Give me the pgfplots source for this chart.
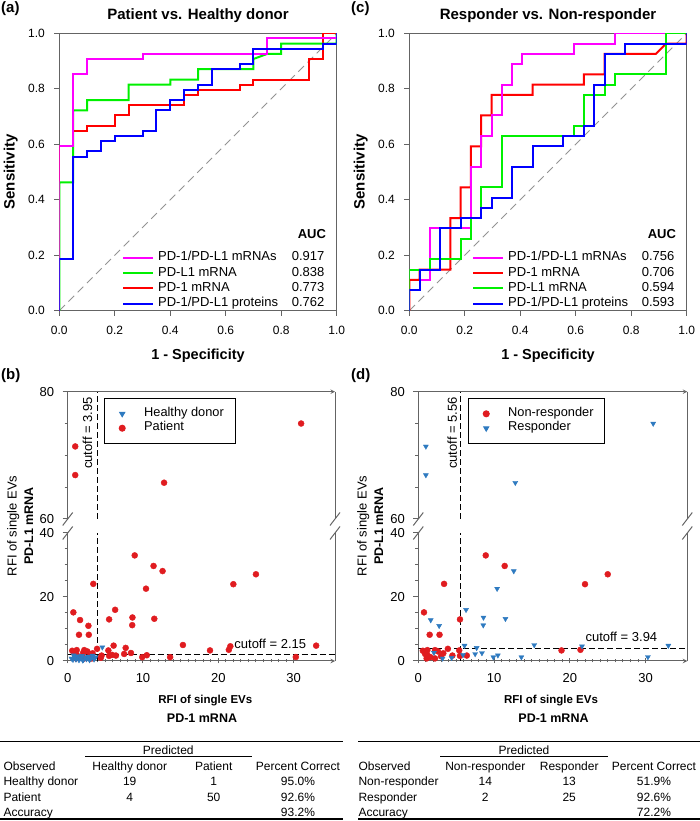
\documentclass[border=0pt]{standalone}
\usepackage{pgfplots}
\pgfplotsset{compat=1.18}
\usepackage{pgfplotstable}
\usepackage{fontspec}
\setmainfont{Liberation Sans}
\definecolor{cmag}{RGB}{255,0,255}
\definecolor{cgreen}{RGB}{0,240,0}
\definecolor{cred}{RGB}{255,0,0}
\definecolor{cblue}{RGB}{0,0,255}
\definecolor{pred}{RGB}{224,28,32}
\definecolor{pblue}{RGB}{46,122,192}
\definecolor{frame}{RGB}{100,100,100}
\newcommand{\fs}[1]{\fontsize{#1}{#1}\selectfont}

\pgfplotstableread{
x y
8.9 33.0
11.4 29.7
3.4 24.1
22.0 24.0
25.0 27.1
0.75 15.2
1.5 8.2
2.8 8.2
5.5 13.0
18.9 3.3
21.4 3.5
3.9 3.8
0.6 3.2
1.2 3.4
1.2 1.9
1.1 0.8
2.2 3.4
2.2 0.8
3.3 2.4
4.5 1.7
5.4 3.3
5.5 1.6
6.4 1.7
0.9 2.2
1.6 1.2
3.0 1.5
2.6 3.0
}\nonresp

\pgfplotstableread{
x y
1.0 71.4
1.0 66.9
12.8 65.7
31.0 75.0
12.6 28.1
10.4 22.6
6.3 16.0
1.64 12.8
2.75 11.0
8.6 13.6
8.57 11.2
11.5 13.2
15.3 5.0
21.6 4.6
30.3 1.25
33.0 4.8
13.6 1.2
9.9 1.2
10.5 1.8
6.1 4.8
7.7 4.1
2.06 2.6
4.4 1.0
5.9 1.9
7.5 2.2
8.4 2.5
3.2 0.8
}\resp

\pgfplotstableread{
x y
0.5 0.8
0.7 0.4
0.9 1.2
1.1 0.5
1.3 1.5
1.5 0.3
1.7 0.9
1.9 1.6
2.1 0.4
2.3 1.1
2.5 0.6
2.7 1.4
2.9 0.3
3.1 0.9
3.3 1.7
3.5 0.5
3.7 1.2
0.8 1.8
2.0 0.2
4.6 4.3
}\healthy

\pgfplotsset{
  rocaxis/.style={
    scale only axis, width=277.4pt, height=277.4pt,
    xmin=0, xmax=1, ymin=0, ymax=1,
    xtick={0,0.2,0.4,0.6,0.8,1}, ytick={0,0.2,0.4,0.6,0.8,1},
    tick align=outside, tick pos=left, major tick length=5pt,
    axis line style={frame, line width=1pt},
    tick style={frame, line width=1pt},
    ticklabel style={font=\fs{12}},
    xticklabel style={yshift=-7pt},
    yticklabel style={xshift=-6pt},
    /pgf/number format/fixed, /pgf/number format/fixed zerofill,
    /pgf/number format/precision=1, /pgf/number format/assume math mode=true,
    legend style={at={(0.226,0.219)}, anchor=north west, draw=none, fill=none,
      inner sep=0pt, font=\fs{13}, row sep=0pt, column sep=0pt,
      nodes={inner xsep=4pt, inner ysep=0pt, text height=10.6pt, text depth=4.7pt}},
    legend cell align=left,
    legend image code/.code={\draw[##1] (0pt,0pt) -- (30pt,0pt);},
  },
  roc/.style={line width=2pt, mark=none},
  diag/.style={color=gray!85, line width=1pt, dash pattern=on 8pt off 5pt, mark=none, forget plot},
  scat/.style={
    scale only axis, xmin=0, xmax=35.5,
    tick align=outside, major tick length=5pt, minor tick length=3pt,
    axis line style={frame, line width=1pt, -},
    tick style={frame, line width=1pt},
    ticklabel style={font=\fs{13}},
    xticklabel style={yshift=-6pt},
    yticklabel style={xshift=-5pt},
    /pgf/number format/assume math mode=true,
  },
  markleg/.style={legend image code/.code={\path[draw=none, fill=none] (0pt,0pt) -- (28pt,0pt); \draw[##1] plot coordinates {(10.4pt,0pt)};}},
  scatleg/.style={legend style={anchor=north west, draw=black, line width=1pt,
      inner xsep=7pt, inner ysep=7.8pt, font=\fs{12.8}, row sep=0pt, column sep=0pt,
      nodes={inner xsep=4.33pt, inner ysep=0pt, text height=9.6pt, text depth=4.8pt}},
    legend cell align=left},
  cut/.style={black, line width=1pt, dash pattern=on 6pt off 3pt, mark=none, forget plot},
  pt/.style={only marks, mark=*, mark size=3pt, color=pred, forget plot},
  tri/.style={only marks, mark=triangle*, mark size=2.9pt, mark options={rotate=180}, color=pblue, forget plot},
}

\begin{document}
\begin{tikzpicture}[x=1pt,y=1pt]
\useasboundingbox (0,0) rectangle (700,821);

% ---------------- (a) ----------------
\begin{axis}[rocaxis, at={(59.3pt,510.3pt)}, anchor=south west]
\addplot[diag] coordinates {(0,0) (1,1)};
\addplot[roc, cred, forget plot] coordinates {(0,0)(0,0.5926)(0.05,0.5926)(0.05,0.6481)(0.1,0.6481)(0.1,0.6667)(0.2,0.6667)(0.2,0.7037)(0.25,0.7037)(0.25,0.7407)(0.45,0.7407)(0.45,0.7778)(0.5,0.7778)(0.5,0.7963)(0.65,0.7963)(0.65,0.8148)(0.7,0.8148)(0.7,0.8333)(0.9,0.8333)(0.9,0.9074)(0.95,0.9074)(0.95,1)(1,1)};
\addplot[roc, cgreen, forget plot] coordinates {(0,0)(0,0.4630)(0.05,0.4630)(0.05,0.7222)(0.1,0.7222)(0.1,0.7593)(0.25,0.7593)(0.25,0.8148)(0.4,0.8148)(0.4,0.8333)(0.5,0.8333)(0.5,0.8704)(0.7,0.8704)(0.7,0.9074)(0.75,0.9259)(0.8,0.9259)(0.8,0.9630)(1,0.9630)(1,1)};
\addplot[roc, cmag, forget plot] coordinates {(0,0)(0,0.5926)(0.05,0.5926)(0.05,0.8519)(0.1,0.8519)(0.1,0.9074)(0.3,0.9074)(0.3,0.9259)(0.75,0.9259)(0.75,0.9815)(1,0.9815)(1,1)};
\addplot[roc, cblue, forget plot] coordinates {(0,0)(0,0.1852)(0.05,0.1852)(0.05,0.5556)(0.1,0.5556)(0.1,0.5741)(0.15,0.5741)(0.15,0.6111)(0.2,0.6111)(0.2,0.6296)(0.3,0.6296)(0.3,0.6481)(0.35,0.6481)(0.35,0.7222)(0.4,0.7222)(0.4,0.7593)(0.45,0.7593)(0.45,0.7963)(0.5,0.7963)(0.5,0.8148)(0.55,0.8148)(0.55,0.8704)(0.65,0.8704)(0.65,0.8889)(0.7,0.8889)(0.7,0.9444)(0.95,0.9444)(0.95,0.9630)(1,0.9630)(1,1)};
\addlegendimage{roc, cmag}\addlegendentry{\makebox[133.7pt][l]{PD-1/PD-L1 mRNAs}0.917}
\addlegendimage{roc, cgreen}\addlegendentry{\makebox[133.7pt][l]{PD-L1 mRNA}0.838}
\addlegendimage{roc, cred}\addlegendentry{\makebox[133.7pt][l]{PD-1 mRNA}0.773}
\addlegendimage{roc, cblue}\addlegendentry{\makebox[133.7pt][l]{PD-1/PD-L1 proteins}0.762}
\node[font=\bfseries\fs{13}, anchor=base west, inner sep=0pt] at (axis cs:0.859,0.261) {AUC};
\end{axis}

% ---------------- (c) ----------------
\begin{axis}[rocaxis, at={(409.3pt,510.3pt)}, anchor=south west]
\addplot[diag] coordinates {(0,0) (1,1)};
\addplot[roc, cred, forget plot] coordinates {(0,0)(0,0.1111)(0.0370,0.1111)(0.0370,0.1481)(0.1481,0.1481)(0.1481,0.3333)(0.1852,0.3333)(0.1852,0.4444)(0.2222,0.4444)(0.2222,0.5926)(0.2593,0.5926)(0.2593,0.7037)(0.2963,0.7037)(0.2963,0.7778)(0.4444,0.7778)(0.4444,0.8148)(0.6296,0.8148)(0.6296,0.8519)(0.7037,0.8519)(0.7037,0.9259)(0.8889,0.9259)(0.9259,0.9630)(1,0.9630)(1,1)};
\addplot[roc, cmag, forget plot] coordinates {(0,0)(0,0.0741)(0.0370,0.0741)(0.0370,0.1111)(0.0741,0.1111)(0.0741,0.2963)(0.2222,0.2963)(0.2222,0.5185)(0.2593,0.5185)(0.2593,0.6296)(0.2963,0.6296)(0.2963,0.7037)(0.3333,0.7037)(0.3333,0.8148)(0.3704,0.8148)(0.3704,0.8889)(0.4074,0.8889)(0.4074,0.9259)(0.5926,0.9259)(0.5926,0.9630)(0.7407,0.9630)(0.7407,1)(1,1)};
\addplot[roc, cgreen, forget plot] coordinates {(0,0)(0,0.1481)(0.0741,0.1481)(0.0741,0.1852)(0.1852,0.1852)(0.1852,0.2593)(0.2222,0.2593)(0.2222,0.3333)(0.2593,0.3333)(0.2593,0.4444)(0.3333,0.4444)(0.3333,0.6296)(0.5926,0.6296)(0.5926,0.6667)(0.6296,0.6667)(0.6296,0.7778)(0.7037,0.7778)(0.7037,0.8148)(0.7407,0.8148)(0.7407,0.8519)(0.9259,0.8519)(0.9259,1)(1,1)};
\addplot[roc, cblue, forget plot] coordinates {(0,0)(0,0.0741)(0.0370,0.0741)(0.0370,0.1481)(0.1111,0.1481)(0.1111,0.2963)(0.1852,0.2963)(0.1852,0.3333)(0.2593,0.3333)(0.2593,0.3704)(0.2963,0.3704)(0.2963,0.4074)(0.3704,0.4074)(0.3704,0.5185)(0.4444,0.5185)(0.4444,0.5926)(0.5556,0.5926)(0.5556,0.6296)(0.6296,0.6296)(0.6296,0.6667)(0.6667,0.6667)(0.6667,0.8148)(0.7037,0.8148)(0.7037,0.9259)(0.7778,0.9259)(0.7778,0.9630)(1,0.9630)(1,1)};
\addlegendimage{roc, cmag}\addlegendentry{\makebox[133.7pt][l]{PD-1/PD-L1 mRNAs}0.756}
\addlegendimage{roc, cred}\addlegendentry{\makebox[133.7pt][l]{PD-1 mRNA}0.706}
\addlegendimage{roc, cgreen}\addlegendentry{\makebox[133.7pt][l]{PD-L1 mRNA}0.594}
\addlegendimage{roc, cblue}\addlegendentry{\makebox[133.7pt][l]{PD-1/PD-L1 proteins}0.593}
\node[font=\bfseries\fs{13}, anchor=base west, inner sep=0pt] at (axis cs:0.859,0.261) {AUC};
\end{axis}

% ---------------- (b) lower ----------------
\begin{axis}[scat, at={(67.7pt,160pt)}, anchor=south west, width=267.3pt, height=128pt,
  ymin=0, ymax=40, xtick={0,10,20,30}, minor x tick num=9, ytick={0,20,40}, minor y tick num=3,
  axis x line=bottom, axis y line=box, ytick pos=left]
\addplot[cut] coordinates {(3.95,0) (3.95,40)};
\addplot[cut] coordinates {(0,2.15) (35.5,2.15)};
\addplot[pt, restrict y to domain=0:40] table {\nonresp};
\addplot[pt, restrict y to domain=0:40] table {\resp};
\addplot[tri] table {\healthy};
\node[font=\fs{13}, anchor=base, inner sep=0pt] at (axis cs:26.9,4.06) {cutoff = 2.15};
\end{axis}

% ---------------- (b) upper ----------------
\begin{axis}[scat, scatleg, at={(67.7pt,302pt)}, anchor=south west, width=267.3pt, height=127.3pt,
  ymin=60, ymax=80, xtick=\empty, ytick={60,80}, minor y tick num=3,
  axis x line=top, axis y line=box, ytick pos=left,
  legend style={at={(0.137,0.948)}}]
\addplot[cut] coordinates {(3.95,60) (3.95,80)};
\addplot[pt, restrict y to domain=60:80] table {\nonresp};
\addplot[pt, restrict y to domain=60:80] table {\resp};
\addlegendimage{only marks, mark=triangle*, mark size=2.9pt, mark options={rotate=180}, color=pblue, markleg}
\addlegendentry{Healthy donor}
\addlegendimage{only marks, mark=*, mark size=3pt, color=pred, markleg}
\addlegendentry{Patient}
\node[font=\fs{13}, anchor=base, rotate=90, inner sep=0pt] at (axis cs:3.23,73.5) {cutoff = 3.95};
\end{axis}

% ---------------- (d) lower ----------------
\begin{axis}[scat, at={(418.3pt,160pt)}, anchor=south west, width=269pt, height=128pt,
  ymin=0, ymax=40, xtick={0,10,20,30}, minor x tick num=9, ytick={0,20,40}, minor y tick num=3,
  axis x line=bottom, axis y line=box, ytick pos=left]
\addplot[cut] coordinates {(5.56,0) (5.56,40)};
\addplot[cut] coordinates {(0,3.94) (35.5,3.94)};
\addplot[pt, restrict y to domain=0:40] table {\nonresp};
\addplot[tri, restrict y to domain=0:40] table {\resp};
\node[font=\fs{13}, anchor=base, inner sep=0pt] at (axis cs:26.8,6.0) {cutoff = 3.94};
\end{axis}

% ---------------- (d) upper ----------------
\begin{axis}[scat, scatleg, at={(418.3pt,302pt)}, anchor=south west, width=269pt, height=127.3pt,
  ymin=60, ymax=80, xtick=\empty, ytick={60,80}, minor y tick num=3,
  axis x line=top, axis y line=box, ytick pos=left,
  legend style={at={(0.186,0.948)}}]
\addplot[cut] coordinates {(5.56,60) (5.56,80)};
\addplot[pt, restrict y to domain=60:80] table {\nonresp};
\addplot[tri, restrict y to domain=60:80] table {\resp};
\addlegendimage{only marks, mark=*, mark size=3pt, color=pred, markleg}
\addlegendentry{Non-responder}
\addlegendimage{only marks, mark=triangle*, mark size=2.9pt, mark options={rotate=180}, color=pblue, markleg}
\addlegendentry{Responder}
\node[font=\fs{13}, anchor=base, rotate=90, inner sep=0pt] at (axis cs:5.1,73.5) {cutoff = 5.56};
\end{axis}

% break marks
\foreach \bx in {67.7,335,418.3,687.3}{
  \draw[frame, line width=1pt] (\bx-5,295.5) -- (\bx+5,308.5);
  \draw[frame, line width=1pt] (\bx-5,281.5) -- (\bx+5,294.5);
}

% panel labels and titles
\node[font=\bfseries\fs{15}, anchor=base west, inner sep=0pt] at (1,808.5) {(a)};
\node[font=\bfseries\fs{15}, anchor=base west, inner sep=0pt] at (351,808.5) {(c)};
\node[font=\bfseries\fs{15}, anchor=base west, inner sep=0pt] at (1,441) {(b)};
\node[font=\bfseries\fs{15}, anchor=base west, inner sep=0pt] at (351,441) {(d)};
\node[font=\bfseries\fs{15}, anchor=base, inner sep=0pt] at (198,801.5) {Patient vs. Healthy donor};
\node[font=\bfseries\fs{15}, anchor=base, inner sep=0pt] at (548,801.5) {Responder vs. Non-responder};
\node[font=\bfseries\fs{14.5}, anchor=base, inner sep=0pt] at (198,461.3) {1 - Specificity};
\node[font=\bfseries\fs{14.5}, anchor=base, inner sep=0pt] at (548,461.3) {1 - Specificity};
\node[font=\bfseries\fs{15}, anchor=base, rotate=90, inner sep=0pt] at (14.7,649) {Sensitivity};
\node[font=\bfseries\fs{15}, anchor=base, rotate=90, inner sep=0pt] at (364.7,649) {Sensitivity};

% scatter axis labels
\node[font=\fs{13}, anchor=base, rotate=90, inner sep=0pt] at (16.5,295) {RFI of single EVs};
\node[font=\bfseries\fs{12.5}, anchor=base, rotate=90, inner sep=0pt] at (33,295) {PD-L1 mRNA};
\node[font=\fs{13}, anchor=base, rotate=90, inner sep=0pt] at (366.5,295) {RFI of single EVs};
\node[font=\bfseries\fs{12.5}, anchor=base, rotate=90, inner sep=0pt] at (383,295) {PD-L1 mRNA};
\node[font=\bfseries\fs{11.5}, anchor=base, inner sep=0pt] at (205.3,117.5) {RFI of single EVs};
\node[font=\bfseries\fs{12.5}, anchor=base, inner sep=0pt] at (202,98.3) {PD-1 mRNA};
\node[font=\bfseries\fs{11.5}, anchor=base, inner sep=0pt] at (551,117.5) {RFI of single EVs};
\node[font=\bfseries\fs{12.5}, anchor=base, inner sep=0pt] at (553.5,98.3) {PD-1 mRNA};

% ---------------- tables ----------------
\begin{scope}[every node/.style={font=\fs{12}, inner sep=0pt, anchor=base}]
\draw[line width=1.3pt] (0,79.3) -- (343.3,79.3);
\draw[line width=0.9pt] (85,64.5) -- (252,64.5);
\draw[line width=1.3pt] (0,2) -- (343.3,2);
\node at (168.3,66) {Predicted};
\node[anchor=base west] at (3.3,50.5) {Observed};
\node at (129.7,50.5) {Healthy donor};
\node at (213.7,50.5) {Patient};
\node at (298,50.5) {Percent Correct};
\node[anchor=base west] at (3.3,35) {Healthy donor};
\node at (129.7,35) {19};
\node at (213.7,35) {1};
\node at (298,35) {95.0\%};
\node[anchor=base west] at (3.3,19.5) {Patient};
\node at (129.7,19.5) {4};
\node at (213.7,19.5) {50};
\node at (298,19.5) {92.6\%};
\node[anchor=base west] at (3.3,4.5) {Accuracy};
\node at (298,4.5) {93.2\%};

\draw[line width=1.3pt] (358.3,79.3) -- (700,79.3);
\draw[line width=0.9pt] (440,64.5) -- (607.7,64.5);
\draw[line width=1.3pt] (358.3,2) -- (700,2);
\node at (524,66) {Predicted};
\node[anchor=base west] at (358.3,50.5) {Observed};
\node at (485.3,50.5) {Non-responder};
\node at (569.2,50.5) {Responder};
\node at (654,50.5) {Percent Correct};
\node[anchor=base west] at (358.3,35) {Non-responder};
\node at (485.3,35) {14};
\node at (569.2,35) {13};
\node at (654,35) {51.9\%};
\node[anchor=base west] at (358.3,19.5) {Responder};
\node at (485.3,19.5) {2};
\node at (569.2,19.5) {25};
\node at (654,19.5) {92.6\%};
\node[anchor=base west] at (358.3,4.5) {Accuracy};
\node at (654,4.5) {72.2\%};
\end{scope}
\end{tikzpicture}
\end{document}
